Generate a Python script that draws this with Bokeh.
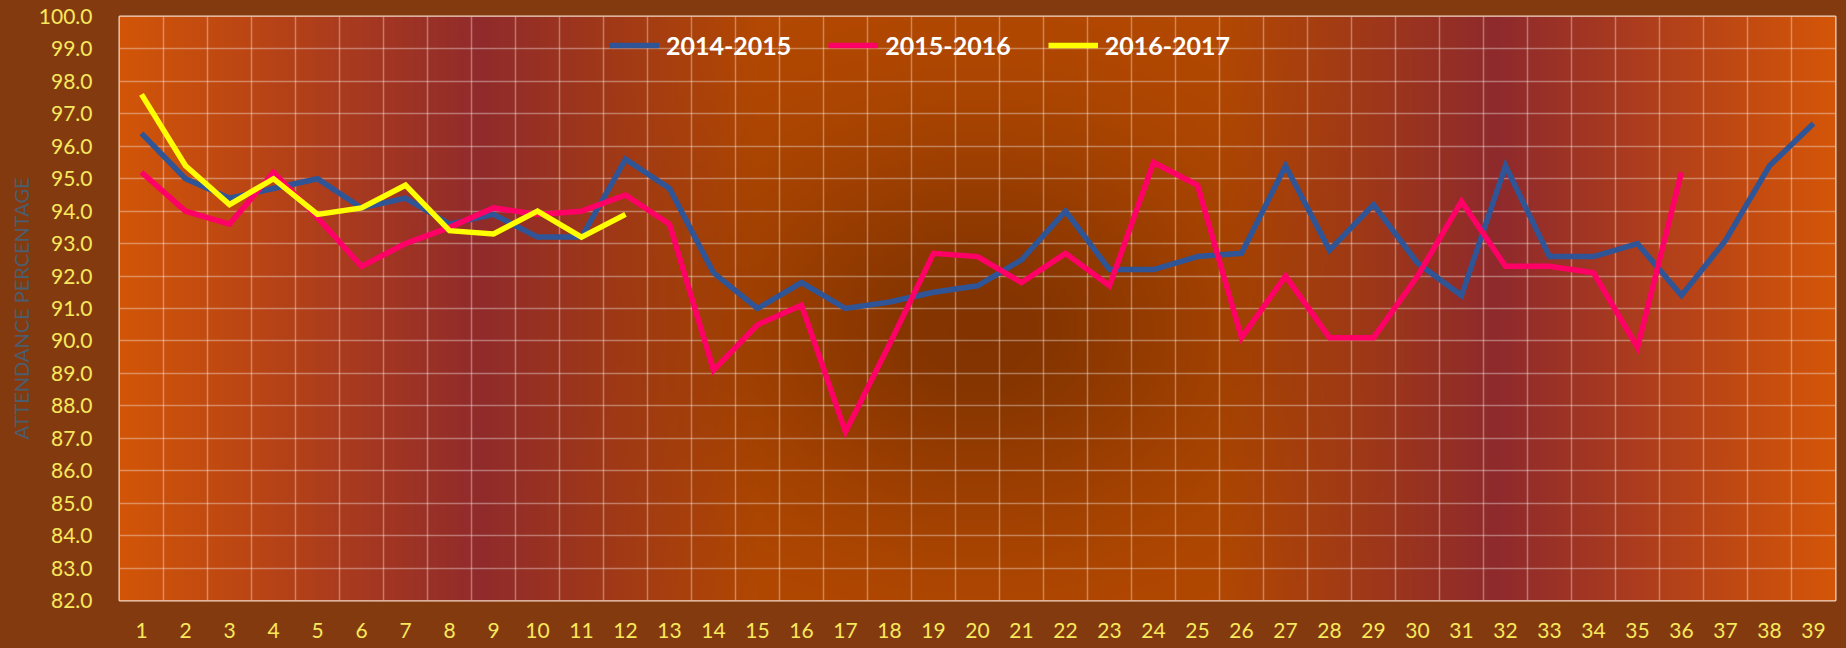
import numpy as np
from bokeh.plotting import figure
from bokeh.models import (Range1d, FixedTicker, PrintfTickFormatter, Legend,
                          LegendItem, GlobalInlineStyleSheet)
from bokeh.embed import file_html
from bokeh.resources import INLINE

# ---------------- data ----------------
weeks = list(range(1, 40))
tick_labels_x = [str(w) for w in weeks]
y_ticks = list(range(82, 101))

s2014_2015 = [96.4, 95.0, 94.4, 94.7, 95.0, 94.1, 94.4, 93.6, 93.9, 93.2,
              93.2, 95.6, 94.7, 92.1, 91.0, 91.8, 91.0, 91.2, 91.5, 91.7,
              92.5, 94.0, 92.2, 92.2, 92.6, 92.7, 95.4, 92.8, 94.2, 92.4,
              91.4, 95.4, 92.6, 92.6, 93.0, 91.4, 93.1, 95.4, 96.7]
s2015_2016 = [95.2, 94.0, 93.6, 95.2, 93.8, 92.3, 93.0, 93.5, 94.1, 93.9,
              94.0, 94.5, 93.6, 89.1, 90.5, 91.1, 87.2, 89.9, 92.7, 92.6,
              91.8, 92.7, 91.7, 95.5, 94.8, 90.1, 92.0, 90.1, 90.1, 92.0,
              94.3, 92.3, 92.3, 92.1, 89.8, 95.2]
s2016_2017 = [97.6, 95.4, 94.2, 95.0, 93.9, 94.1, 94.8, 93.4, 93.3, 94.0,
              93.2, 93.9]

series_names = ["2014-2015", "2015-2016", "2016-2017"]
series_colors = ["#2F5597", "#FF0066", "#FFFF00"]

OUTER = "#833A0E"
TICK_COLOR = "#F8E85C"

# ---------------- figure ----------------
p = figure(width=1846, height=648, output_backend="svg", toolbar_location=None,
           x_range=Range1d(0.5, 39.5), y_range=Range1d(82, 100),
           min_border_left=119, min_border_right=11, min_border_top=16,
           min_border_bottom=48)
p.background_fill_color = OUTER
p.border_fill_color = OUTER
p.outline_line_color = "#F3D9C8"
p.outline_line_width = 2
p.stylesheets = [GlobalInlineStyleSheet(
    css="html, body { background-color: %s; overflow: hidden; }" % OUTER)]

# background gradient of the plot area (style only)
nx, ny = 430, 146
gx = np.linspace(0.5, 39.5, nx)
gy = np.linspace(82, 100, ny)
X, Y = np.meshgrid(gx, gy)
stops_x = [0.5, 8.7, 15.0, 25.5, 31.8, 39.5]
stops_c = np.array([[210, 85, 8], [145, 43, 44], [180, 73, 2],
                    [180, 73, 2], [143, 42, 45], [212, 86, 8]], dtype=float)
base = np.stack([np.interp(X, stops_x, stops_c[:, k]) for k in range(3)], axis=-1)
dxp = (X - 20.0) * 44.0
dyp = (Y - 90.3) * 32.44
w = np.exp(-(dxp / 250.0) ** 2 - (dyp / 190.0) ** 2) * 0.85
dark = np.array([122, 48, 0], dtype=float)
rgb = base * (1 - w[..., None]) + dark * w[..., None]
img = np.empty((ny, nx), dtype=np.uint32)
view = img.view(dtype=np.uint8).reshape((ny, nx, 4))
view[..., 0] = rgb[..., 0].astype(np.uint8)
view[..., 1] = rgb[..., 1].astype(np.uint8)
view[..., 2] = rgb[..., 2].astype(np.uint8)
view[..., 3] = 255
p.image_rgba(image=[img], x=0.5, y=82, dw=39, dh=18, level="image")

# grid
p.xgrid.ticker = FixedTicker(ticks=[i + 0.5 for i in range(1, 39)])
p.ygrid.ticker = FixedTicker(ticks=y_ticks[1:-1])
for g in (p.xgrid, p.ygrid):
    g.grid_line_color = "#FFFFFF"
    g.grid_line_alpha = 0.35
    g.grid_line_width = 1.5

# axes
p.xaxis.ticker = FixedTicker(ticks=weeks)
p.xaxis.major_label_overrides = {w: t for w, t in zip(weeks, tick_labels_x)}
p.yaxis.ticker = FixedTicker(ticks=y_ticks)
p.yaxis.formatter = PrintfTickFormatter(format="%.1f")
for ax in (p.xaxis[0], p.yaxis[0]):
    ax.axis_line_color = None
    ax.major_tick_line_color = None
    ax.minor_tick_line_color = None
    ax.major_label_text_color = TICK_COLOR
    ax.major_label_text_font = "Lato"
    ax.major_label_text_font_size = "21px"
p.xaxis.major_label_standoff = 16
p.yaxis.major_label_standoff = 21
p.yaxis.axis_label = "ATTENDANCE PERCENTAGE"
p.yaxis.axis_label_text_font = "Lato"
p.yaxis.axis_label_text_font_style = "normal"
p.yaxis.axis_label_text_font_size = "20px"
p.yaxis.axis_label_text_color = "#4C5D6E"
p.yaxis.axis_label_standoff = 3

# lines
all_series = [s2014_2015, s2015_2016, s2016_2017]
items = []
for name, col, vals in zip(series_names, series_colors, all_series):
    r = p.line(weeks[:len(vals)], vals, line_color=col, line_width=5.5,
               line_join="miter")
    items.append(LegendItem(label=name, renderers=[r]))

legend = Legend(items=items, orientation="horizontal", location=(490, 540))
legend.background_fill_alpha = 0
legend.border_line_color = None
legend.padding = 0
legend.margin = 0
legend.spacing = 37
legend.glyph_width = 50
legend.label_standoff = 7
legend.label_text_color = "#FFFFFF"
legend.label_text_font = "Lato"
legend.label_text_font_style = "bold"
legend.label_text_font_size = "25px"
p.add_layout(legend)

open("out.html", "w").write(file_html(p, INLINE))
